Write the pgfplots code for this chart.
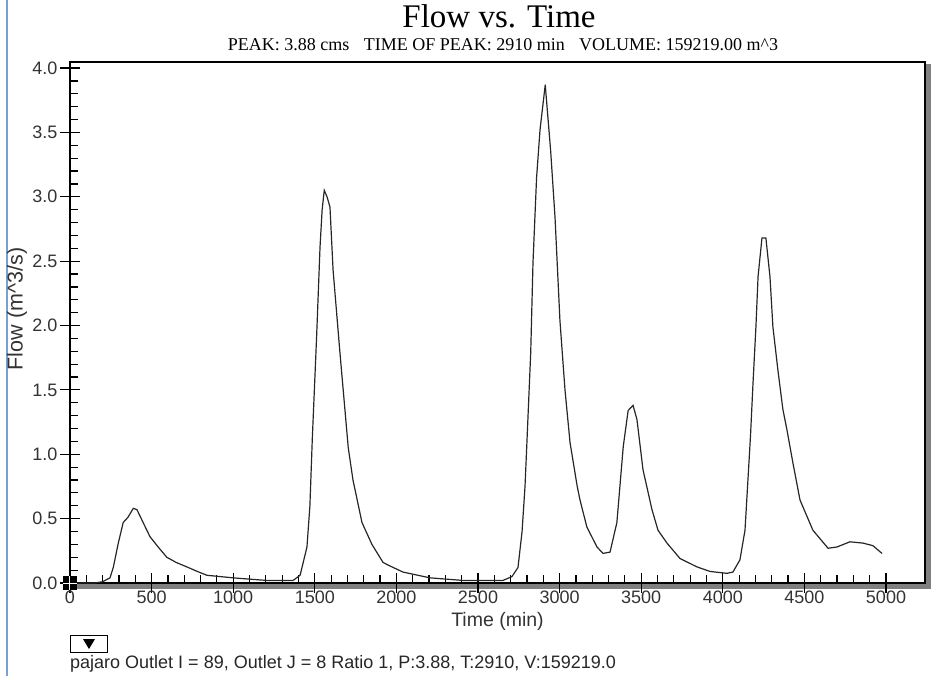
\documentclass[border=0pt]{standalone}
\usepackage{fontspec}
\setmainfont{Liberation Serif}
\newfontfamily\uisans{Liberation Sans}
\usepackage{pgfplots}
\pgfplotsset{compat=1.18}
\definecolor{shadow}{RGB}{128,128,128}
\definecolor{winblue}{RGB}{120,160,210}

\begin{document}
\begin{tikzpicture}
\useasboundingbox (0pt,0pt) rectangle (952pt,-676pt);
% window edge and frame shadow
\draw[winblue, line width=2pt] (7pt,0pt) -- (7pt,-676pt);
\fill[shadow] (70pt,-584pt) rectangle (931pt,-589pt);
\fill[shadow] (926pt,-64pt) rectangle (931pt,-589pt);

\begin{axis}[
    at={(70pt,-583pt)}, anchor=south west,
    scale only axis, width=855pt, height=521pt,
    xmin=0, xmax=5239, ymin=0, ymax=4.047,
    xtick={0,500,...,5000}, minor x tick num=4,
    ytick={0,0.5,...,4}, minor y tick num=4,
    tick pos=left,
    tick align=center,
    major tick length=20pt, minor tick length=8pt,
    minor x tick style={yshift=4pt},
    minor y tick style={xshift=4pt},
    every tick/.style={black, line width=1.2pt},
    axis line style={line width=1.3pt},
    /pgf/number format/assume math mode=true,
    tick label style={font=\uisans\fontsize{18}{21}\selectfont, text=black!80},
    xticklabel style={/pgf/number format/set thousands separator={}, anchor=north, yshift=6pt},
    yticklabel style={/pgf/number format/fixed, /pgf/number format/fixed zerofill,
                      /pgf/number format/precision=1, anchor=east, xshift=1pt},
    xlabel={Time (min)},
    ylabel={Flow (m\textasciicircum 3/s)},
    label style={text=black!80},
    xlabel style={font=\uisans\fontsize{19.5}{22}\selectfont,
                  at={(axis description cs:0.5,0)}, anchor=center, yshift=-38pt},
    ylabel style={font=\uisans\fontsize{21.5}{24}\selectfont,
                  at={(axis description cs:-0.062,0.526)}, anchor=center},
    clip=false,
]
\addplot[black!85, line width=1.2pt] coordinates {
    (0,0) (150,0.0) (200,0.01) (245,0.04) (265,0.12) (296,0.31) (326,0.47)
    (355,0.51) (388,0.58) (410,0.57) (448,0.47) (490,0.36) (540,0.28)
    (593,0.20) (650,0.16) (716,0.125) (780,0.09) (839,0.06) (1000,0.04)
    (1100,0.03) (1206,0.02) (1367,0.02) (1410,0.06) (1452,0.28) (1470,0.60)
    (1485,1.13) (1511,1.91) (1532,2.61) (1545,2.90) (1558,3.05) (1575,3.00)
    (1593,2.92) (1612,2.43) (1654,1.79) (1705,1.05) (1734,0.80) (1789,0.47)
    (1850,0.30) (1918,0.16) (1948,0.14) (2040,0.085) (2206,0.04) (2408,0.02)
    (2653,0.02) (2708,0.05) (2745,0.12) (2770,0.40) (2788,0.75) (2800,1.10)
    (2823,1.79) (2837,2.49) (2859,3.15) (2880,3.52) (2912,3.87) (2945,3.36)
    (2972,2.84) (3002,2.04) (3033,1.50) (3064,1.09) (3108,0.75) (3125,0.645)
    (3167,0.435) (3229,0.28) (3266,0.23) (3309,0.24) (3351,0.47) (3390,1.06)
    (3420,1.34) (3450,1.38) (3474,1.27) (3511,0.88) (3566,0.57) (3603,0.41)
    (3658,0.31) (3738,0.19) (3842,0.125) (3921,0.09) (4025,0.075) (4062,0.085)
    (4105,0.18) (4136,0.41) (4154,0.80) (4170,1.15) (4185,1.55) (4203,1.99)
    (4216,2.38) (4240,2.68) (4264,2.68) (4289,2.38) (4307,1.99) (4338,1.65)
    (4368,1.35) (4393,1.19) (4430,0.93) (4473,0.645) (4552,0.41) (4645,0.27)
    (4700,0.28) (4779,0.32) (4859,0.31) (4920,0.29) (4975,0.23)
};
% origin handle icon
\fill[black] ([xshift=-7pt,yshift=-7pt]axis cs:0,0) rectangle ([xshift=7pt,yshift=7pt]axis cs:0,0);
\draw[white, line width=1pt] ([xshift=-7pt]axis cs:0,0) -- ([xshift=7pt]axis cs:0,0);
\draw[white, line width=1pt] ([yshift=-7pt]axis cs:0,0) -- ([yshift=7pt]axis cs:0,0);
\end{axis}

\node[anchor=base, font=\fontsize{33}{36}\selectfont] at (499pt,-28pt) {Flow vs. Time};
\node[anchor=base, font=\fontsize{18}{20}\selectfont] at (503pt,-51pt)
    {PEAK: 3.88 cms\hspace{0.8em}TIME OF PEAK: 2910 min\hspace{0.8em}VOLUME: 159219.00 m\textasciicircum 3};

% legend toggle box and series caption
\draw[black, line width=1pt] (70pt,-635pt) rectangle (107pt,-652pt);
\fill[black] (83pt,-639pt) -- (95pt,-639pt) -- (89pt,-649pt) -- cycle;
\node[anchor=base west, inner sep=0pt, font=\uisans\fontsize{18}{21}\selectfont, text=black!85] at (70pt,-668pt)
    {pajaro Outlet I = 89, Outlet J = 8 Ratio 1, P:3.88, T:2910, V:159219.0};
\end{tikzpicture}
\end{document}
